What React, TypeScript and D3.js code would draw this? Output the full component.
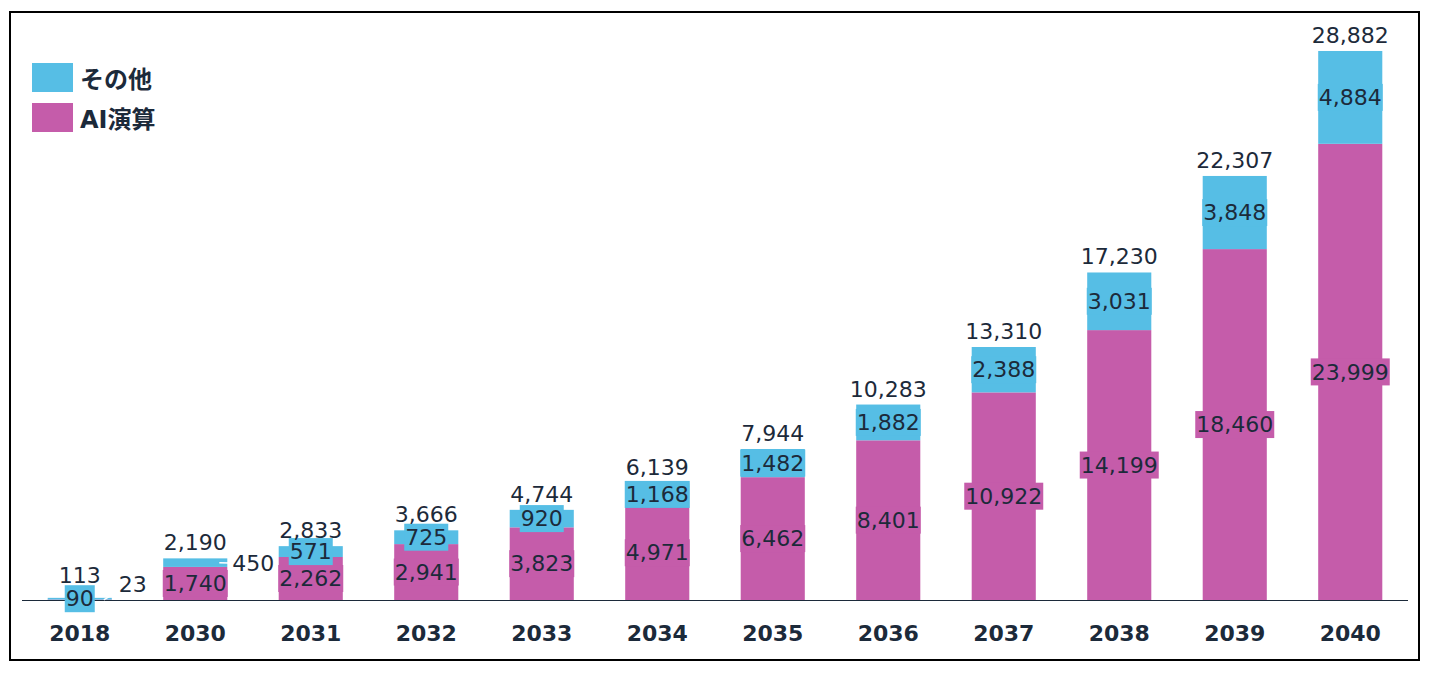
import React from 'react'
import * as d3 from 'd3'

const years = ['2018', '2030', '2031', '2032', '2033', '2034', '2035', '2036', '2037', '2038', '2039', '2040']
const aiValues = [23, 1740, 2262, 2941, 3823, 4971, 6462, 8401, 10922, 14199, 18460, 23999]
const otherValues = [90, 450, 571, 725, 920, 1168, 1482, 1882, 2388, 3031, 3848, 4884]
const totals = [113, 2190, 2833, 3666, 4744, 6139, 7944, 10283, 13310, 17230, 22307, 28882]

const BLUE = '#56bee5'
const MAGENTA = '#c55caa'
const TEXT = '#1c2a3a'
const FONT = '"DejaVu Sans", Verdana, sans-serif'

const W = 1432,
	H = 674

const fmt = d3.format(',')

// rough text width for DejaVu Sans digits at 22px
const textWidth = (s: string) => s.split('').reduce((a, c) => a + (c === ',' ? 7 : 14), 0)

const App = () => {
	const x = d3.scaleBand().domain(years).range([22, 1408]).paddingInner(0.445).paddingOuter(0.2225)
	const y = d3.scaleLinear().domain([0, 28882]).range([600, 51])
	const bw = x.bandwidth()

	const series = [
		{ key: 'ai', values: aiValues, color: MAGENTA },
		{ key: 'other', values: otherValues, color: BLUE },
	]

	const stacked = years.map((yr, i) => {
		const a1 = aiValues[i],
			o1 = a1 + otherValues[i]
		return { yr, ai: [0, a1], other: [a1, o1] } as Record<string, any>
	})

	// labels that sit beside the bar instead of inside it
	const outside: Record<string, { dx: number; dy: number }> = {
		'2018-ai': { dx: 7, dy: -15 },
		'2030-other': { dx: 5, dy: 1 },
	}
	// small nudge for totals that would hit a label box
	const totalNudge: Record<string, number> = { '2018': -7 }

	return (
		<svg width={W} height={H} style={{ position: 'absolute', left: 0, top: 0 }} fontFamily={FONT}>
			<rect x={0} y={0} width={W} height={H} fill="#fff" />
			<rect x={10} y={12} width={1409} height={648} fill="none" stroke="#000" strokeWidth={2} />

			{/* bars */}
			{stacked.map((d) =>
				series.map((s) => {
					const [v0, v1] = d[s.key] as number[]
					const hgt = Math.max(y(v0) - y(v1), 0.6)
					return <rect key={d.yr + s.key} x={x(d.yr)!} y={y(v1)} width={bw} height={hgt} fill={s.color} />
				})
			)}

			{/* baseline */}
			<line x1={22} x2={1408} y1={600.5} y2={600.5} stroke="#1c2a3a" strokeWidth={1.2} />

			{/* segment labels */}
			{stacked.map((d, i) =>
				series.map((s) => {
					const [v0, v1] = d[s.key] as number[]
					const label = fmt(s.values[i])
					const cx = x(d.yr)! + bw / 2
					const cy = (y(v0) + y(v1)) / 2
					const out = outside[d.yr + '-' + s.key]
					if (out) {
						const right = x(d.yr)! + bw
						return (
							<g key={'l' + d.yr + s.key}>
								<line x1={right - 8} x2={right + 2} y1={cy} y2={cy + out.dy * 0.4} stroke="#fff" strokeWidth={1.5} />
								<text x={right + out.dx} y={cy + out.dy} dy="0.35em" fontSize={22} fill={TEXT}>
									{label}
								</text>
							</g>
						)
					}
					const tw = textWidth(label) + 2
					return (
						<g key={'l' + d.yr + s.key}>
							<rect x={cx - tw / 2} y={cy - 13.5} width={tw} height={27} fill={s.color} />
							<text x={cx} y={cy} dy="0.35em" textAnchor="middle" fontSize={22} fill={TEXT}>
								{label}
							</text>
						</g>
					)
				})
			)}

			{/* totals */}
			{years.map((yr, i) => (
				<text
					key={'t' + yr}
					x={x(yr)! + bw / 2}
					y={y(totals[i]) - 8 + (totalNudge[yr] || 0)}
					textAnchor="middle"
					fontSize={22}
					fill={TEXT}
				>
					{fmt(totals[i])}
				</text>
			))}

			{/* x axis labels */}
			{years.map((yr) => (
				<text key={'x' + yr} x={x(yr)! + bw / 2} y={641} textAnchor="middle" fontSize={22} fontWeight="bold" fill={TEXT}>
					{yr}
				</text>
			))}

			{/* legend */}
			<rect x={32} y={63} width={41} height={29} fill={BLUE} />
			<text x={80} y={88} fontSize={24} fontWeight="bold" fill={TEXT} fontFamily={'"DejaVu Sans", "Noto Sans CJK JP", sans-serif'}>
				その他
			</text>
			<rect x={32} y={103} width={41} height={29} fill={MAGENTA} />
			<text x={80} y={128} fontSize={24} fontWeight="bold" fill={TEXT} fontFamily={'"DejaVu Sans", "Noto Sans CJK JP", sans-serif'}>
				AI演算
			</text>
		</svg>
	)
}

export default App
